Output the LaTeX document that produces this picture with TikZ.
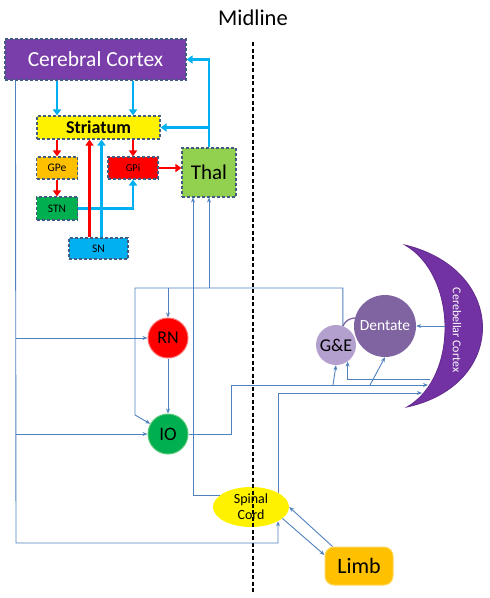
\documentclass[tikz,border=0pt]{standalone}
\usepackage{fontspec}
\setmainfont{Carlito}
\usepackage{xcolor}
\usepackage{tikz}
\usetikzlibrary{shapes,arrows,positioning,calc,arrows.meta}

\definecolor{ctxpurple}{RGB}{122,62,170}
\definecolor{dashblue}{RGB}{65,92,128}
\definecolor{bgblue}{RGB}{0,176,240}
\definecolor{fibblue}{RGB}{79,129,189}
\definecolor{thalgreen}{RGB}{146,208,80}
\definecolor{gpeorange}{RGB}{255,192,0}
\definecolor{stngreen}{RGB}{0,176,80}
\definecolor{rnedge}{RGB}{255,110,110}
\definecolor{ioedge}{RGB}{90,200,120}
\definecolor{gelilac}{RGB}{180,160,206}
\definecolor{dentpurple}{RGB}{128,100,162}
\definecolor{cbpurple}{RGB}{114,50,164}
\definecolor{limbedge}{RGB}{255,214,90}

\begin{document}
\begin{tikzpicture}[x=1pt,y=-1pt,
    bbox/.style={draw=dashblue,line width=1.1pt,dash pattern=on 3pt off 2pt,inner sep=0pt},
    bgcyan/.style={draw=bgblue,line width=2.6pt,-{Triangle[length=6pt,width=8pt]}},
    bgred/.style={draw=red,line width=2.6pt,-{Triangle[length=6pt,width=8pt]}},
    fib/.style={draw=fibblue,line width=0.9pt,-{Stealth[length=5pt,width=4pt]}},
    nuc/.style={circle,inner sep=0pt,minimum size=40pt}]
    \useasboundingbox (0,0) rectangle (490,598);

    \node[font=\fontsize{22.5}{26}\selectfont] (mid) at (253,18) {Midline};

    % Cerebellar cortex (crescent)
    \filldraw[fill=cbpurple,draw=cbpurple!85!black,line width=0.8pt]
        (405,245) .. controls (508,270) and (508,385) .. (407,407)
        .. controls (459,377) and (457,275) .. (405,245) -- cycle;
    \node[rotate=-90,text=white,font=\fontsize{12}{14}\selectfont] (cbc) at (457,330) {Cerebellar Cortex};

    % Basal ganglia loop
    \node[bbox,fill=ctxpurple,text=white,minimum width=181pt,minimum height=41pt,font=\fontsize{21.5}{24}\selectfont] (ctx) at (95.5,59.5) {Cerebral Cortex};
    \node[bbox,fill=yellow,minimum width=123pt,minimum height=23pt,font=\bfseries\fontsize{18}{20}\selectfont] (str) at (98.5,127.5) {Striatum};
    \node[bbox,fill=gpeorange,minimum width=41pt,minimum height=22pt,font=\fontsize{11.5}{12}\selectfont] (gpe) at (57,168) {GPe};
    \node[bbox,fill=red,minimum width=50pt,minimum height=22pt,font=\fontsize{10.5}{12}\selectfont] (gpi) at (133,168) {GPi};
    \node[bbox,fill=stngreen,minimum width=41pt,minimum height=23pt,font=\fontsize{11.5}{12}\selectfont] (stn) at (57,208.5) {STN};
    \node[bbox,fill=bgblue,minimum width=59pt,minimum height=21pt,font=\fontsize{11.5}{12}\selectfont] (sn) at (98.5,248.5) {SN};
    \node[bbox,fill=thalgreen,minimum width=54pt,minimum height=49pt,font=\fontsize{21}{24}\selectfont] (thal) at (209,172.5) {Thal};

    \draw[bgcyan] (gpe |- ctx.south) -- (gpe |- str.north);
    \draw[bgcyan] (gpi |- ctx.south) -- (gpi |- str.north);
    \draw[bgred] (gpe |- str.south) -- (gpe.north);
    \draw[bgred] (gpi |- str.south) -- (gpi.north);
    \draw[bgred] (gpe.south) -- (stn.north);
    \draw[bgred] (gpi.east) -- (thal.west |- gpi.east);
    \draw[bgcyan] (stn.east) -| (gpi.south);
    \draw[bgred] ([xshift=-9pt]sn.north) -- ([xshift=-9pt]sn.north |- str.south);
    \draw[bgcyan] ([xshift=3pt]sn.north) -- ([xshift=3pt]sn.north |- str.south);
    \draw[bgcyan] (thal.north) |- (ctx.east);
    \draw[bgcyan] (thal.north |- str.east) -- (str.east);

    % Cerebellar nuclei, brainstem, cord
    \node[nuc,fill=red,draw=rnedge,line width=1pt,font=\fontsize{18}{20}\selectfont] (rn) at (168,338) {RN};
    \node[nuc,fill=stngreen,draw=ioedge,line width=1pt,font=\fontsize{19}{20}\selectfont] (io) at (168,434) {IO};
    \node[nuc,fill=gelilac,font=\fontsize{18}{20}\selectfont] (ge) at (336,345) {G\&E};
    \node[circle,inner sep=0pt,minimum size=62pt,fill=dentpurple,text=white,font=\fontsize{15.5}{18}\selectfont] (dent) at (385,326) {Dentate};
    \node[ellipse,fill=yellow,minimum width=76pt,minimum height=40pt,inner xsep=0pt,inner ysep=-4pt,align=center,font=\fontsize{14}{16}\selectfont] (sc) at (251,507) {Spinal\\Cord};
    \node[rounded corners=9pt,fill=gpeorange,draw=limbedge,line width=1pt,minimum width=68pt,minimum height=38pt,font=\fontsize{22}{24}\selectfont] (limb) at (359,566) {Limb};

    % Midline
    \coordinate (mtop) at (253,42);
    \coordinate (mbot) at (253,592);
    \draw[line width=1.8pt,dash pattern=on 4pt off 2.5pt] (mtop) -- (mbot);

    % Cortex to RN, IO and cord
    \coordinate (ctxdn) at (16,543);
    \draw[fib] ([xshift=11pt]ctx.south west) -- (ctxdn) -| (sc.south east);
    \draw[fib] (ctxdn |- rn.west) -- (rn.west);
    \draw[fib] (ctxdn |- io.west) -- (io.west);
    \draw[fib] (rn.south) -- (io.north);

    % Cord to thalamus
    \draw[fib] (sc.160) -| ([xshift=-16pt]thal.south);

    % G&E back to thalamus, RN and IO
    \coordinate (fbk) at (135,288);
    \coordinate (fbkio) at (135,415);
    \draw[fib] (ge.70) |- (fbk) -- (fbkio) -- (io.150);
    \draw[fib] (rn |- fbk) -- (rn.north);
    \draw[fib] (thal.south |- fbk) -- (thal.south);
    \draw[dentpurple,line width=1.3pt] (ge.70) to[bend left=30] (dent.165);

    % IO to cerebellum
    \coordinate (iocb) at (231,385);
    \coordinate (cbin2) at (428,385);
    \coordinate (iob1) at (333,385);
    \coordinate (iob2) at (370,385);
    \draw[fib] (io.east) -| (iocb) -- (cbin2);
    \draw[fib] (iob1) -- (ge.south);
    \draw[fib] (iob2) -- (dent.south);

    % Cerebellar cortex outputs
    \coordinate (cbin0) at (445,326);
    \coordinate (cbin1) at (430,379);
    \draw[fib] (cbin0) -- (dent.east);
    \draw[fib] (cbin1) -| (ge.-55);

    % Cord to cerebellum, cord and limb
    \coordinate (cbin3) at (422,393);
    \draw[fib] (sc.north east) |- (cbin3);
    \draw[fib] (sc.-20) -- ([yshift=11pt]limb.west);
    \draw[fib] ([xshift=8pt]limb.north west) -- (sc.0);
\end{tikzpicture}
\end{document}
